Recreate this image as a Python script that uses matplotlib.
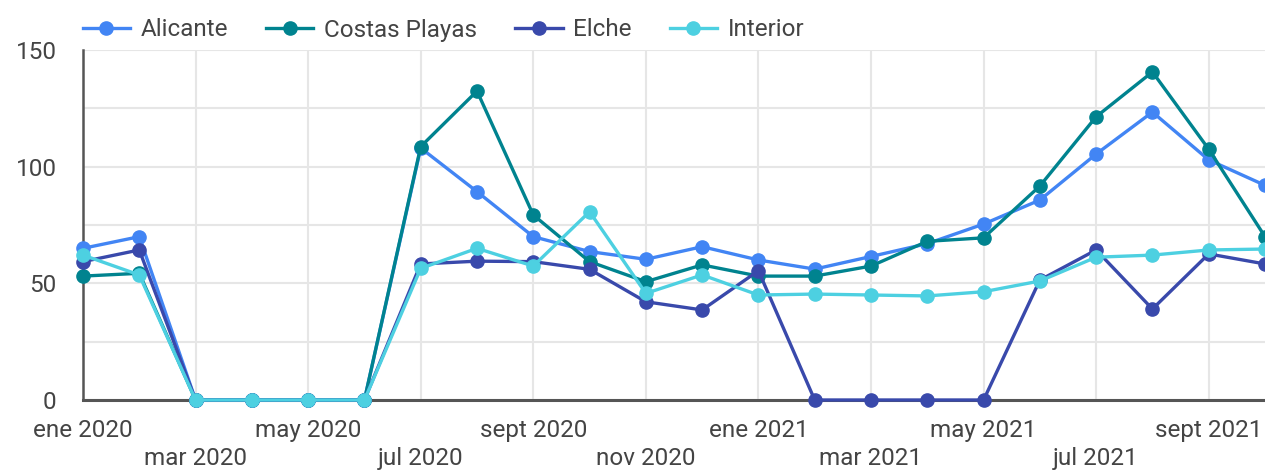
import matplotlib
matplotlib.use("Agg")
import matplotlib.pyplot as plt
from matplotlib.lines import Line2D

plt.rcParams['font.family'] = ['Roboto', 'DejaVu Sans']

months = ["ene 2020", "feb 2020", "mar 2020", "abr 2020", "may 2020", "jun 2020",
          "jul 2020", "ago 2020", "sept 2020", "oct 2020", "nov 2020", "dic 2020",
          "ene 2021", "feb 2021", "mar 2021", "abr 2021", "may 2021", "jun 2021",
          "jul 2021", "ago 2021", "sept 2021", "oct 2021"]

alicante = [65, 70, 0, 0, 0, 0, 108, 89.3, 70, 63.6, 60.3, 65.7,
            60, 56.1, 61.5, 67, 75.4, 85.7, 105.4, 123.4, 102.9, 92]
costas = [53.1, 54.3, 0, 0, 0, 0, 108.6, 132.4, 79.3, 59.3, 50.7, 57.9,
          53.1, 53.1, 57.4, 68, 69.5, 91.7, 121.4, 140.6, 107.5, 70]
elche = [59.3, 64.3, 0, 0, 0, 0, 58.3, 59.5, 59.3, 56, 42.1, 38.6,
         55.4, 0, 0, 0, 0, 51.4, 64.3, 39, 62.6, 58.3]
interior = [62.1, 53.6, 0, 0, 0, 0, 56.4, 65, 57.4, 80.7, 45.7, 53.6,
            45, 45.4, 45, 44.6, 46.4, 51, 61.2, 62.1, 64.3, 64.7]

series = [("Alicante", alicante, "#4285f4"),
          ("Costas Playas", costas, "#00838f"),
          ("Elche", elche, "#3949ab"),
          ("Interior", interior, "#4dd0e1")]

fs = 17.5
fig = plt.figure(figsize=(12.65, 4.7), dpi=100)
ax = fig.add_axes([83 / 1265, 70 / 470, 1 - 83 / 1265, 350 / 470])

x = list(range(len(months)))
for name, vals, col in series:
    ax.plot(x, vals, color=col, lw=2.4, marker='o', markersize=9.5,
            clip_on=False, zorder=3, label=name)

ax.set_xlim(0, 21)
ax.set_ylim(0, 150)
ax.set_yticks([0, 25, 50, 75, 100, 125, 150])
ax.set_yticklabels(["0", "", "50", "", "100", "", "150"])
ax.set_xticks(range(2, 22, 2), minor=False)
ax.grid(True, color="#e6e6e6", lw=1.5, zorder=0)
ax.tick_params(axis='both', length=0, labelsize=fs, colors="#444444")
ax.tick_params(axis='y', pad=19)
ax.tick_params(axis='x', labelbottom=False)

# two-row x labels every two months
for i in range(0, 22, 2):
    row = 0 if i % 4 == 0 else 1
    ax.text(i, -0.055 - row * 0.08, months[i], transform=ax.get_xaxis_transform(),
            ha='center', va='top', fontsize=fs, color="#444444")

for s in ['top', 'right']:
    ax.spines[s].set_visible(False)
ax.spines['left'].set_color("#555555")
ax.spines['left'].set_linewidth(1.8)
ax.spines['bottom'].set_color("#555555")
ax.spines['bottom'].set_linewidth(2.2)
ax.spines['bottom'].set_zorder(2)

handles = [Line2D([], [], color=c, lw=2.4, marker='o', markersize=9.5) for _, _, c in series]
fig.legend(handles, [s[0] for s in series], loc='center left', ncol=4,
           bbox_to_anchor=(0.048, 1 - 30 / 470), frameon=False, fontsize=fs,
           handlelength=1.95, columnspacing=1.55, handletextpad=0.45,
           labelcolor="#444444")

fig.savefig("out.png", dpi=100)
